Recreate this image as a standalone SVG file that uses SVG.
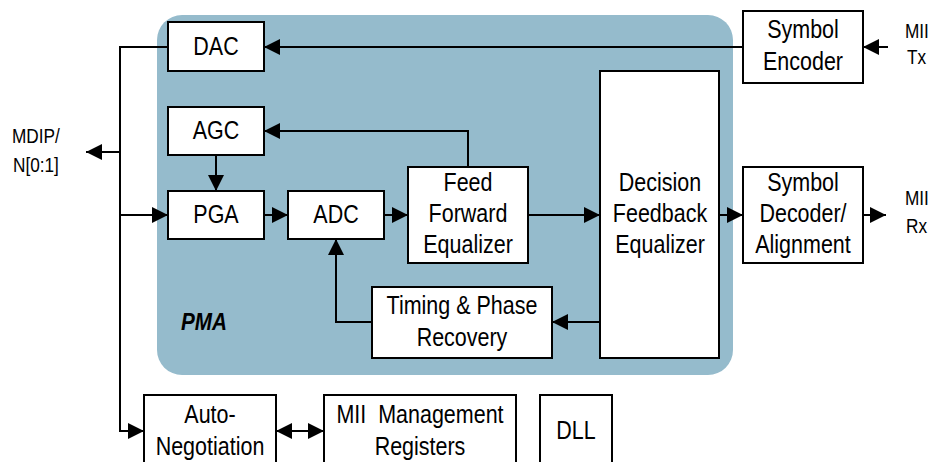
<svg xmlns="http://www.w3.org/2000/svg" width="928" height="462" viewBox="0 0 928 462">
<defs>
<style>
.b{fill:#fff;stroke:#000;stroke-width:2}
.t{font-family:"Liberation Sans",Arial,sans-serif;font-size:25px;text-anchor:middle;fill:#000}
.s{font-family:"Liberation Sans",Arial,sans-serif;font-size:21px;fill:#000}
.c{fill:none;stroke:#000;stroke-width:2}
</style>
<marker id="a" markerUnits="userSpaceOnUse" markerWidth="16" markerHeight="16" refX="16" refY="8" orient="auto-start-reverse" viewBox="0 0 16 16">
<path d="M0,0 L16,8 L0,16 z" fill="#000"/>
</marker>
</defs>
<rect id="pma" x="157" y="15" width="576" height="360" rx="25" fill="#95bbcc"/>
<text transform="matrix(.9 0 0 1 181 0)" x="0" y="330" style="font-family:'Liberation Sans',Arial,sans-serif;font-size:23px;font-weight:bold;font-style:italic">PMA</text>
<g id="connectors">
<path class="c" d="M168,47 H120 V431 H144" marker-end="url(#a)"/>
<path class="c" d="M120,152 H86" marker-end="url(#a)"/>
<path class="c" d="M120,215 H168" marker-end="url(#a)"/>
<path class="c" d="M743,47 H264" marker-end="url(#a)"/>
<path class="c" d="M888,47 H863" marker-end="url(#a)"/>
<path class="c" d="M468,167 V131 H264" marker-end="url(#a)"/>
<path class="c" d="M216,155 V191" marker-end="url(#a)"/>
<path class="c" d="M264,215 H288" marker-end="url(#a)"/>
<path class="c" d="M384,215 H408" marker-end="url(#a)"/>
<path class="c" d="M528,215 H600" marker-end="url(#a)"/>
<path class="c" d="M719,215 H743" marker-end="url(#a)"/>
<path class="c" d="M863,215 H886" marker-end="url(#a)"/>
<path class="c" d="M600,322 H552" marker-end="url(#a)"/>
<path class="c" d="M372,322 H336 V239" marker-end="url(#a)"/>
<path class="c" d="M276,431 H324" marker-start="url(#a)" marker-end="url(#a)"/>
</g>
<g id="mdip"><text class="s" transform="matrix(.82 0 0 1 12 0)" x="0" y="143">MDIP/</text><text class="s" transform="matrix(.82 0 0 1 13 0)" x="0" y="172">N[0:1]</text></g>
<g id="miitx"><text class="s" transform="matrix(.82 0 0 1 905 0)" x="0" y="38">MII</text><text class="s" transform="matrix(.82 0 0 1 907 0)" x="0" y="64">Tx</text></g>
<g id="miirx"><text class="s" transform="matrix(.82 0 0 1 905 0)" x="0" y="205">MII</text><text class="s" transform="matrix(.82 0 0 1 906 0)" x="0" y="233">Rx</text></g>
<g id="dac"><rect class="b" x="168" y="22" width="96" height="49"/><text class="t" transform="matrix(.86 0 0 1 216 0)" x="0" y="55">DAC</text></g>
<g id="agc"><rect class="b" x="168" y="107" width="96" height="48"/><text class="t" transform="matrix(.86 0 0 1 216 0)" x="0" y="139">AGC</text></g>
<g id="pga"><rect class="b" x="168" y="191" width="96" height="48"/><text class="t" transform="matrix(.86 0 0 1 216 0)" x="0" y="223">PGA</text></g>
<g id="adc"><rect class="b" x="288" y="191" width="96" height="48"/><text class="t" transform="matrix(.86 0 0 1 336 0)" x="0" y="223">ADC</text></g>
<g id="ffe"><rect class="b" x="408" y="167" width="120" height="96"/><g transform="matrix(.86 0 0 1 468 0)"><text class="t" x="0" y="191">Feed</text><text class="t" x="0" y="222">Forward</text><text class="t" x="0" y="253">Equalizer</text></g></g>
<g id="dfe"><rect class="b" x="600" y="71" width="119" height="287"/><g transform="matrix(.86 0 0 1 660 0)"><text class="t" x="0" y="191">Decision</text><text class="t" x="0" y="222">Feedback</text><text class="t" x="0" y="253">Equalizer</text></g></g>
<g id="enc"><rect class="b" x="743" y="11" width="120" height="72"/><g transform="matrix(.86 0 0 1 803 0)"><text class="t" x="0" y="38">Symbol</text><text class="t" x="0" y="70">Encoder</text></g></g>
<g id="dec"><rect class="b" x="743" y="167" width="120" height="96"/><g transform="matrix(.86 0 0 1 803 0)"><text class="t" x="0" y="191">Symbol</text><text class="t" x="0" y="222">Decoder/</text><text class="t" x="0" y="253">Alignment</text></g></g>
<g id="timing"><rect class="b" x="372" y="287" width="180" height="71"/><g transform="matrix(.86 0 0 1 462 0)"><text class="t" x="0" y="314">Timing &amp; Phase</text><text class="t" x="0" y="346">Recovery</text></g></g>
<g id="autoneg"><rect class="b" x="144" y="395" width="132" height="80"/><g transform="matrix(.86 0 0 1 210 0)"><text class="t" x="0" y="423">Auto-</text><text class="t" x="0" y="455">Negotiation</text></g></g>
<g id="mgmt"><rect class="b" x="324" y="395" width="192" height="80"/><g transform="matrix(.86 0 0 1 420 0)"><text class="t" x="0" y="423" xml:space="preserve">MII  Management</text><text class="t" x="0" y="455">Registers</text></g></g>
<g id="dll"><rect class="b" x="540" y="395" width="72" height="80"/><text class="t" transform="matrix(.86 0 0 1 576 0)" x="0" y="439">DLL</text></g>
</svg>
